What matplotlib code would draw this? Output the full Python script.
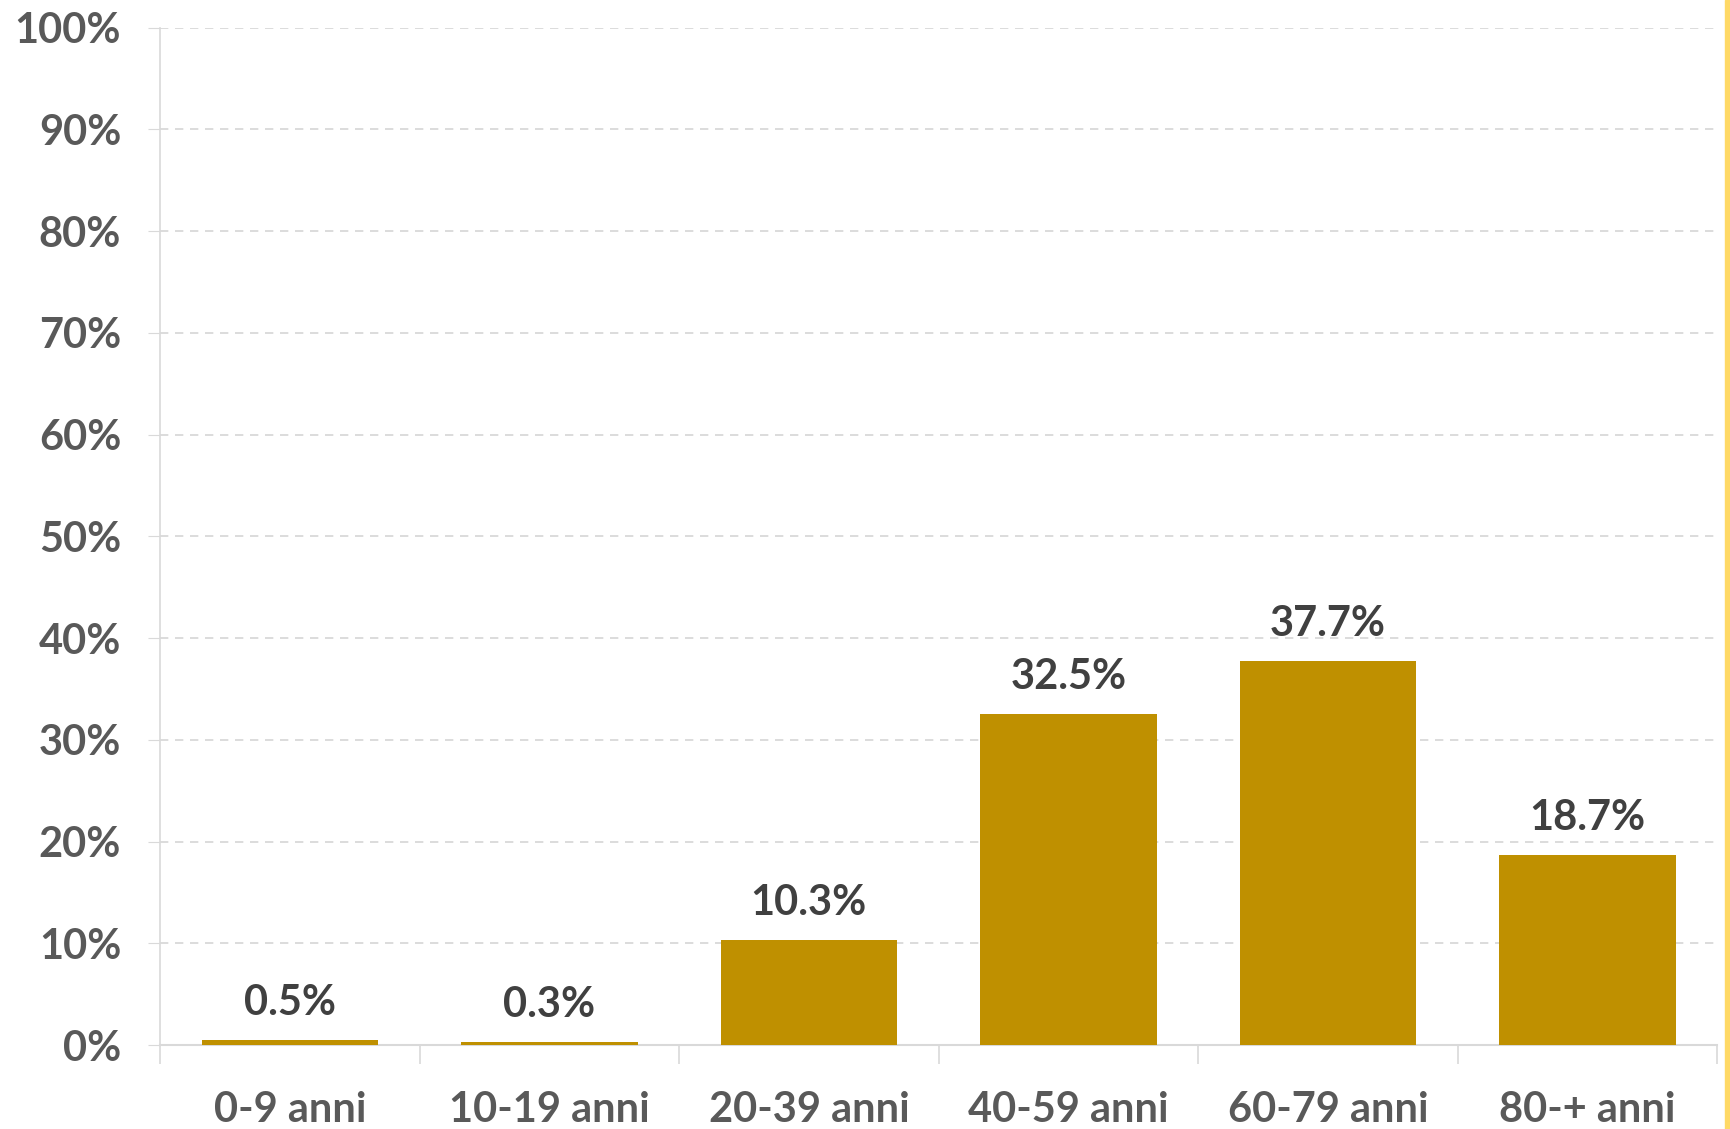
import matplotlib.pyplot as plt
import matplotlib.patches as patches
import numpy as np

# dati: distribuzione per fascia d'età
categorie = ['0-9 anni', '10-19 anni', '20-39 anni', '40-59 anni', '60-79 anni', '80-+ anni']
valori = [0.5, 0.3, 10.3, 32.5, 37.7, 18.7]
tick_y = [0, 10, 20, 30, 40, 50, 60, 70, 80, 90, 100]

colore_barre = '#BF9000'
grigio_testo = '#595959'
grigio_etichette = '#404040'

plt.rcParams['font.family'] = ['Lato', 'DejaVu Sans']

fig = plt.figure(figsize=(17.31, 11.29), dpi=100)
ax = fig.add_axes([0.0925, 0.0744, 0.8995, 0.9011])

x = np.arange(len(categorie))
barre = ax.bar(x, valori, width=0.68, color=colore_barre, zorder=3)

# etichette dei valori sopra le barre
for xi, v in zip(x, valori):
    ax.annotate(f'{v:.1f}%', (xi, v), xytext=(0, 13), textcoords='offset points',
                ha='center', va='bottom', fontsize=30, fontweight='bold',
                color=grigio_etichette)

ax.set_xlim(-0.5, len(categorie) - 0.5)
ax.set_ylim(0, 100)

ax.set_yticks(tick_y)
ax.set_yticklabels([f'{t}%' for t in tick_y])
ax.yaxis.grid(True, linestyle=(0, (5, 4)), color='#D5D5D5', linewidth=1.2, zorder=0)

ax.set_xticks(x)
ax.set_xticklabels(categorie)
ax.set_xticks(np.arange(-0.5, len(categorie)), minor=True)

ax.tick_params(axis='y', length=9, color='#D9D9D9', pad=19, labelsize=30,
               labelcolor=grigio_testo)
ax.tick_params(axis='x', which='major', length=0, pad=33, labelsize=30,
               labelcolor=grigio_testo)
ax.tick_params(axis='x', which='minor', length=14, color='#D9D9D9', width=1.2)

for lab in ax.get_xticklabels() + ax.get_yticklabels():
    lab.set_fontweight('bold')

for s in ['top', 'right']:
    ax.spines[s].set_visible(False)
ax.spines['left'].set_color('#D9D9D9')
ax.spines['left'].set_linewidth(1.2)
ax.spines['bottom'].set_color('#D9D9D9')
ax.spines['bottom'].set_linewidth(1.5)

# bordo giallo a destra
fig.patches.append(patches.Rectangle((0.9965, 0), 0.0035, 1, transform=fig.transFigure,
                                     color='#FFD966', zorder=10))

fig.savefig('out.png', dpi=100)
